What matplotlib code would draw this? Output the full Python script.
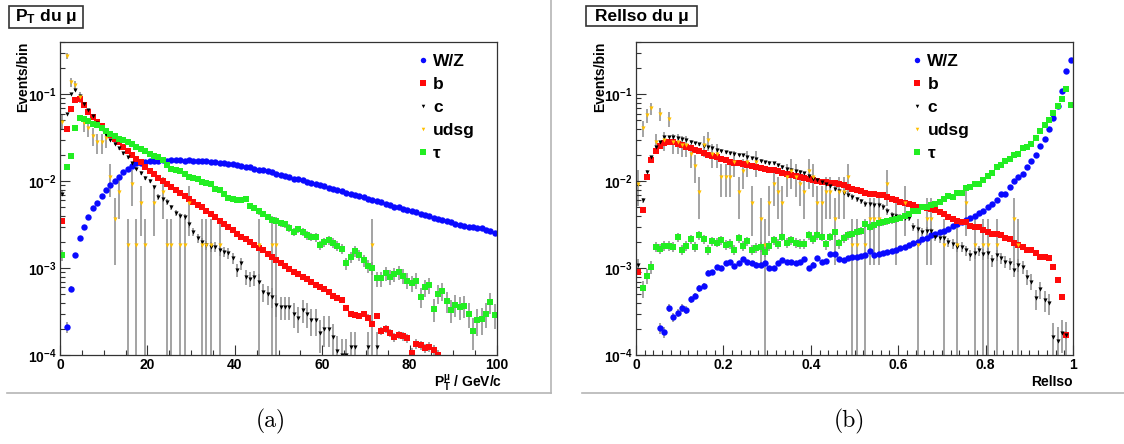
import numpy as np
import matplotlib.pyplot as plt
from matplotlib.lines import Line2D
from matplotlib.patches import Rectangle
from matplotlib.ticker import MultipleLocator, LogLocator, NullFormatter, FuncFormatter

plt.rcParams['font.family'] = ['Liberation Sans', 'DejaVu Sans']
plt.rcParams['font.weight'] = 'bold'
plt.rcParams['mathtext.fontset'] = 'custom'
plt.rcParams['mathtext.rm'] = 'Liberation Sans:bold'
plt.rcParams['mathtext.it'] = 'Liberation Sans:bold'
plt.rcParams['mathtext.bf'] = 'Liberation Sans:bold'
plt.rcParams['mathtext.default'] = 'rm'

# --- data : 100 bins per histogram, values in units of 1e-3 (events/bin, normalised) ---
# (a) muon pT, 1 GeV/c bins
pt_wz = [0, 0.21, 0.58, 1.41, 2.23, 2.99, 3.89, 4.93, 5.55, 6.73,
         7.9, 9.0, 10.0, 11.2, 12.6, 14.0, 15.0, 16.0, 16.4, 16.7,
         16.9, 17.1, 17.3, 17.4, 17.3, 17.5, 17.4, 17.5, 17.3, 17.4,
         17.2, 17.1, 17.0, 16.9, 16.6, 16.5, 16.3, 16.1, 15.8, 15.6,
         15.3, 15.0, 14.7, 14.4, 14.0, 13.6, 13.3, 13.0, 12.6, 12.2,
         11.8, 11.5, 11.1, 10.7, 10.5, 10.2, 9.9, 9.6, 9.3, 9.0,
         8.7, 8.4, 8.2, 7.9, 7.7, 7.4, 7.1, 6.9, 6.7, 6.5,
         6.3, 6.1, 5.9, 5.8, 5.5, 5.3, 5.1, 5.0, 4.85, 4.7,
         4.55, 4.4, 4.25, 4.1, 3.95, 3.8, 3.7, 3.56, 3.45, 3.35,
         3.25, 3.12, 3.05, 3.0, 2.95, 2.9, 2.86, 2.75, 2.65, 2.55]
pt_b = [3.5, 40, 68, 86, 88, 75, 63, 55, 48, 43,
        38, 34, 31, 28, 25, 22, 20, 18, 16.5, 14.5,
        13, 12.2, 11, 10, 9.2, 8.6, 8.0, 7.4, 6.8, 6.2,
        5.8, 5.3, 5.0, 4.6, 4.2, 3.9, 3.5, 3.25, 3.0, 2.75,
        2.5, 2.3, 2.15, 2.0, 1.85, 1.7, 1.6, 1.45, 1.35, 1.25,
        1.15, 1.05, 0.98, 0.9, 0.85, 0.8, 0.75, 0.7, 0.64, 0.6,
        0.58, 0.53, 0.48, 0.45, 0.43, 0.35, 0.30, 0.29, 0.28, 0.30,
        0.27, 0.23, 0.28, 0.19, 0.2, 0.18, 0.16, 0.17, 0.165, 0.155,
        0.105, 0.135, 0.13, 0.12, 0.125, 0.115, 0.1, 0, 0, 0,
        0, 0, 0, 0, 0, 0, 0, 0, 0, 0]
pt_c = [7.2, 60, 100, 112, 95, 78, 66, 56, 47, 40,
        34, 30, 27, 24, 21, 19, 16, 14, 12.5, 11,
        10, 8.6, 6.6, 6.2, 5.8, 5.0, 4.3, 4.0, 3.9, 3.2,
        2.6, 2.2, 2.0, 1.84, 1.76, 1.76, 1.6, 1.55, 1.48, 1.3,
        0.95, 1.13, 0.79, 0.75, 0.78, 0.7, 0.53, 0.5, 0.47, 0.38,
        0.36, 0.36, 0.36, 0.3, 0.27, 0.33, 0.3, 0.25, 0.25, 0.18,
        0.2, 0.2, 0.16, 0.11, 0.1, 0.1, 0.125, 0.125, 0, 0,
        0.125, 0, 0.125, 0, 0, 0, 0, 0, 0, 0,
        0, 0, 0, 0, 0, 0, 0, 0, 0, 0,
        0, 0, 0, 0, 0, 0, 0, 0, 0, 0]
pt_tau = [1.4, 14.6, 19.4, 41, 54, 52, 49, 46, 44, 41,
          38, 35, 33, 31, 29.5, 28, 26.5, 25, 23.5, 22,
          20.5, 19.5, 19, 17.5, 15.5, 14, 13.5, 13, 12, 11.2,
          10.8, 10.5, 9.8, 9.6, 9.2, 8.2, 7.9, 7.2, 6.4, 6.3,
          6.0, 6.1, 6.2, 5.2, 4.9, 4.5, 4.2, 3.9, 3.6, 3.5,
          3.3, 3.2, 2.9, 2.6, 2.8, 2.6, 2.4, 2.3, 2.26, 1.84,
          2.0, 2.1, 1.95, 1.8, 1.68, 1.13, 1.35, 1.57, 1.4, 1.23,
          1.05, 1.0, 0.76, 0.76, 0.87, 0.8, 0.85, 0.9, 0.82, 0.72,
          0.67, 0.72, 0.47, 0.6, 0.64, 0.34, 0.51, 0.55, 0.42, 0.33,
          0.38, 0.36, 0.37, 0.3, 0.19, 0.25, 0.26, 0.3, 0.41, 0.29]
# udsg: raw event counts, each event has the same weight
pt_udsg_n = [26, 150, 74, 68, 50, 25, 22, 18, 15, 15,
             17, 6, 2, 4, 0, 1, 5, 1, 3, 1,
             0, 3, 0, 4, 1, 1, 0, 1, 1, 3,
             0, 0, 1, 1, 1, 0, 1, 0, 0, 0,
             0, 0, 0, 0, 0, 1, 0, 0, 1, 1,
             0, 0, 0, 0, 0, 0, 0, 0, 0, 0,
             0, 0, 0, 0, 0, 0, 0, 0, 0, 0,
             0, 1, 0, 0, 0, 0, 0, 0, 0, 0,
             0, 0, 0, 0, 0, 0, 0, 0, 0, 0,
             0, 0, 0, 0, 0, 0, 0, 0, 0, 0]

# (b) relative isolation, bins of 0.01
iso_wz = [0, 0, 0, 0, 0, 0.203, 0.182, 0.35, 0.275, 0.306,
          0.35, 0.33, 0.437, 0.48, 0.585, 0.62, 0.89, 0.90, 1.02, 1.0,
          1.13, 1.18, 1.06, 1.13, 1.26, 1.18, 1.13, 1.1, 1.1, 1.15,
          0.99, 1.0, 1.15, 1.23, 1.18, 1.18, 1.15, 1.18, 1.26, 1.0,
          1.1, 1.31, 1.18, 1.2, 1.44, 1.47, 1.26, 1.25, 1.3, 1.34,
          1.36, 1.38, 1.41, 1.58, 1.41, 1.45, 1.51, 1.55, 1.59, 1.62,
          1.7, 1.76, 1.85, 1.92, 2.0, 2.14, 2.25, 2.4, 2.5, 2.6,
          2.7, 2.85, 3.04, 3.2, 3.4, 3.6, 3.8, 4.0, 4.3, 4.6,
          5.0, 5.5, 6.0, 7.2, 7.2, 8.6, 10.0, 11.2, 12.0, 14.6,
          17.1, 19.9, 25.2, 31, 39.6, 53, 73, 109, 185, 246]
iso_b = [0.91, 4.64, 11.2, 17.5, 22, 25.5, 27.5, 28, 28, 27,
         26, 25, 24, 23, 22, 21, 20, 19.5, 19, 18.2,
         17.5, 16.7, 16.3, 16, 15.6, 15.3, 15, 14.6, 14.2, 13.9,
         13.6, 13.4, 13, 12.3, 12, 11.8, 11.5, 11.2, 11, 10.6,
         10.3, 10.1, 9.9, 9.7, 9.6, 9.5, 9.4, 9.0, 8.6, 8.2,
         7.9, 7.7, 7.4, 7.2, 7.1, 7.0, 6.9, 6.5, 6.2, 6.0,
         5.8, 5.6, 5.4, 5.3, 5.1, 5.0, 4.9, 4.75, 4.64, 4.4,
         4.2, 3.9, 3.63, 3.5, 3.4, 3.4, 3.04, 3.0, 3.0, 2.73,
         2.6, 2.5, 2.45, 2.4, 2.25, 2.14, 1.92, 1.84, 1.76, 1.63,
         1.63, 1.5, 1.34, 1.34, 1.29, 1.04, 0.73, 0.47, 0.17, 0]
iso_c = [1.1, 6.0, 12.9, 19, 24.8, 28, 32, 32, 32, 31.5,
         30.5, 29.6, 28.5, 27.5, 26.5, 25.5, 24.8, 24, 23, 22.5,
         21.5, 21, 20.5, 20.2, 20, 19, 18.5, 17.8, 17.2, 16.6,
         16.2, 16, 15.2, 14.6, 14, 13.5, 13, 12.6, 12.3, 11.6,
         10.5, 10.2, 9.8, 9.3, 8.8, 8.2, 7.8, 7.4, 7.0, 6.6,
         6.2, 5.9, 5.5, 5.4, 5.3, 5.3, 5.1, 4.5, 4.06, 4.0,
         3.9, 3.8, 3.8, 2.97, 2.8, 2.6, 2.7, 2.65, 2.3, 2.2,
         2.2, 2.0, 1.9, 1.76, 1.76, 1.6, 1.41, 1.5, 1.6, 1.45,
         1.5, 1.23, 1.4, 1.3, 1.18, 1.13, 0.95, 1.08, 1.04, 0.79,
         0.7, 0.45, 0.57, 0.43, 0.40, 0.162, 0.146, 0.178, 0.17, 0]
iso_tau = [0, 0.585, 0.81, 1.02, 1.76, 1.66, 1.8, 1.8, 1.75, 2.26,
           1.62, 1.82, 2.14, 1.75, 2.4, 2.14, 1.63, 2.05, 1.97, 2.1,
           1.85, 1.9, 1.63, 2.2, 1.82, 2.05, 1.63, 1.7, 1.75, 1.55,
           1.82, 2.1, 1.9, 2.3, 1.95, 2.1, 1.95, 1.9, 1.9, 2.4,
           2.14, 2.4, 2.3, 1.87, 2.3, 2.57, 1.92, 2.2, 2.4, 2.5,
           2.6, 2.7, 3.2, 3.0, 3.1, 3.3, 3.35, 3.45, 3.55, 3.63,
           3.8, 4.0, 4.2, 4.6, 4.6, 5.1, 5.1, 5.3, 5.5, 5.8,
           6.3, 6.8, 6.6, 7.3, 7.4, 8.4, 8.5, 9.2, 9.2, 10.4,
           11.5, 12.4, 14.4, 15.3, 17.1, 18.2, 19.9, 20.4, 24, 25,
           27, 31.6, 38, 44, 50, 61, 73, 89, 115, 75]
iso_udsg_n = [5, 22, 31, 37, 15, 32, 16, 28, 15, 15,
              14, 14, 11, 8, 4, 14, 16, 11, 11, 6,
              6, 6, 9, 4, 7, 9, 3, 9, 2, 1,
              3, 5, 4, 3, 6, 7, 6, 5, 4, 7,
              6, 3, 3, 4, 4, 2, 4, 4, 6, 1,
              1, 0, 1, 2, 2, 2, 0, 5, 0, 2,
              0, 3, 0, 0, 1, 0, 2, 2, 0, 0,
              1, 0, 0, 1, 0, 3, 0, 1, 0, 1,
              1, 0, 1, 0, 0, 0, 2, 1, 0, 0,
              0, 0, 0, 0, 0, 0, 0, 0, 0, 0]

labels = ['W/Z', 'b', 'c', 'udsg', 'τ']
# per-event weights (used for the statistical error bars)
weights = [4e-6, 2e-6, 3e-5, 1.86e-3, 3e-5]
styles = [dict(marker='o', color='#0a0aff', ms=4.6),
          dict(marker='s', color='#ff0a0a', ms=4.4),
          dict(marker='v', color='black', ms=3.0),
          dict(marker='v', color='#ffc000', ms=3.0),
          dict(marker='s', color='#22ee22', ms=4.4)]


def draw_panel(ax, bin_width, series, legend_x):
    x = (np.arange(100) + 0.5) * bin_width
    handles = []
    for v, w, st, lab in zip(series, weights, styles, labels):
        v = np.asarray(v, dtype=float)
        m = v > 0
        err = np.sqrt(v * w)
        lo = np.where(v - err > 1e-5, v - err, 1e-5)
        ax.vlines(x[m], lo[m], (v + err)[m], color='#8a8a8a', lw=1.1, zorder=1)
        h, = ax.plot(x[m], v[m], ls='none', marker=st['marker'], color=st['color'],
                     mec=st['color'], mew=0, ms=st['ms'], label=lab, zorder=2)
        handles.append(h)

    ax.set_yscale('log')
    ax.set_ylim(1e-4, 0.4)
    ax.set_xlim(0, 100 * bin_width)
    ax.set_yticks([1e-4, 1e-3, 1e-2, 1e-1])
    ax.set_yticklabels(['$10^{-4}$', '$10^{-3}$', '$10^{-2}$', '$10^{-1}$'])
    ax.yaxis.set_minor_locator(LogLocator(base=10, subs=np.arange(2, 10), numticks=20))
    ax.yaxis.set_minor_formatter(NullFormatter())
    ax.xaxis.set_major_locator(MultipleLocator(20 * bin_width))
    ax.xaxis.set_minor_locator(MultipleLocator(5 * bin_width if bin_width == 1 else 2 * bin_width))
    ax.xaxis.set_major_formatter(FuncFormatter(lambda t, _: f'{t:g}'))
    ax.tick_params(which='both', direction='in', top=False, right=False,
                   labelsize=10, width=0.8, color='#333333', pad=2.5)
    ax.tick_params(which='major', length=7)
    ax.tick_params(which='minor', length=3.5)
    for s in ax.spines.values():
        s.set_color('#333333')
        s.set_linewidth(0.9)

    ax.legend(handles=handles, loc='upper left', bbox_to_anchor=(legend_x, 0.963),
              frameon=False, fontsize=12.5, handlelength=0.6, handletextpad=0.28,
              labelspacing=0.45, borderpad=0, borderaxespad=0, markerscale=0.85)


W, H = 1124, 444
fig = plt.figure(figsize=(W / 100, H / 100), dpi=100)
ax1 = fig.add_axes([60 / W, 89 / H, 437 / W, 313 / H])
ax2 = fig.add_axes([636 / W, 89 / H, 437 / W, 313 / H])

w_u = weights[3]
draw_panel(ax1, 1, [np.array(pt_wz) * 1e-3, np.array(pt_b) * 1e-3, np.array(pt_c) * 1e-3,
                    np.array(pt_udsg_n) * w_u, np.array(pt_tau) * 1e-3], 0.819)
draw_panel(ax2, 0.01, [np.array(iso_wz) * 1e-3, np.array(iso_b) * 1e-3, np.array(iso_c) * 1e-3,
                       np.array(iso_udsg_n) * w_u, np.array(iso_tau) * 1e-3], 0.632)

# axis titles
for xpix in (23, 600):
    fig.text(xpix / W, 1 - 42 / H, 'Events/bin', rotation=90, ha='center', va='top', fontsize=10)
ax1.text(1.011, -0.090, r'$P_T^{\mu}$ / GeV/c', transform=ax1.transAxes, ha='right', va='center', fontsize=10)
ax2.text(0.998, -0.087, 'RelIso', transform=ax2.transAxes, ha='right', va='center', fontsize=10)

# title panes
for (x0, x1, y0, y1), txt in [((9, 83, 6, 28), r'$P_T$ du μ'), ((586, 697, 6, 26), 'RelIso du μ')]:
    fig.add_artist(Rectangle((x0 / W, 1 - y1 / H), (x1 - x0) / W, (y1 - y0) / H,
                             transform=fig.transFigure, fc='white', ec='#333333', lw=1.2))
    fig.text((x0 + x1) / 2 / W, 1 - (y0 + y1) / 2 / H, txt, ha='center', va='center', fontsize=12.5)

# canvas borders
line_kw = dict(transform=fig.transFigure, color='#b5b5b5', lw=1.2)
fig.add_artist(Line2D([551 / W, 551 / W], [1, 1 - 393 / H], **line_kw))
fig.add_artist(Line2D([7 / W, 551 / W], [1 - 393 / H, 1 - 393 / H], **line_kw))
fig.add_artist(Line2D([582 / W, 1], [1 - 393 / H, 1 - 393 / H], **line_kw))

# captions
fig.text(271 / W, 1 - 421 / H, '(a)', fontfamily='cmr10', fontweight='normal', fontsize=17, ha='center', va='center')
fig.text(849 / W, 1 - 421 / H, '(b)', fontfamily='cmr10', fontweight='normal', fontsize=17, ha='center', va='center')

fig.savefig('out.png', dpi=100)
